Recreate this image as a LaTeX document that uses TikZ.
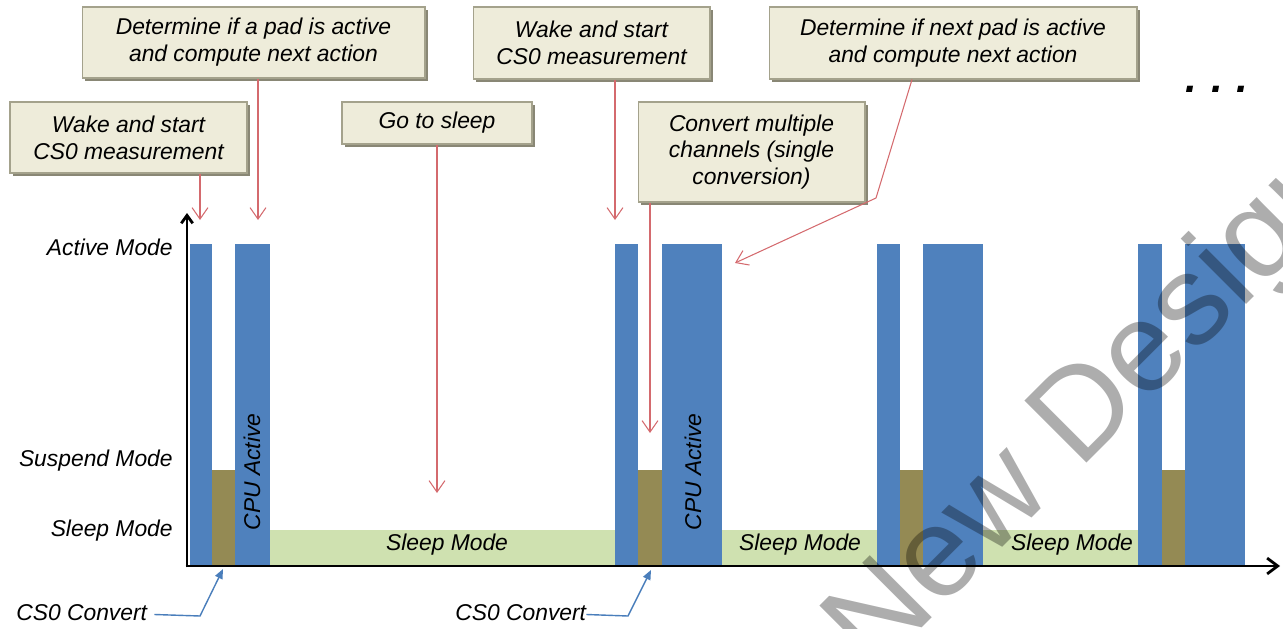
\documentclass[tikz,border=0pt]{standalone}
\usepackage{fontspec}
\setmainfont{Liberation Sans}
\usetikzlibrary{arrows.meta,shadows}
\definecolor{barblue}{HTML}{4F81BD}
\definecolor{barbrown}{HTML}{948A54}
\definecolor{sleepgreen}{HTML}{CFE1B0}
\definecolor{boxfill}{HTML}{EEECDA}
\definecolor{boxedge}{HTML}{A4A28C}
\definecolor{boxshade}{HTML}{7C7A66}
\definecolor{callred}{HTML}{D46A6E}
\definecolor{convblue}{HTML}{4A7EBB}
\begin{document}
\begin{tikzpicture}[x=0.02cm,y=-0.02cm,
  lbl/.style={font=\fontsize{13}{15.3}\selectfont\itshape, inner sep=0pt},
  callout/.style={lbl, align=center, fill=boxfill, draw=boxedge, line width=0.6pt,
    drop shadow={shadow xshift=1.6pt, shadow yshift=-1.6pt, fill=boxshade, opacity=0.9}},
  redarr/.style={draw=callred, line width=0.6pt, -{Straight Barb[length=6.5pt,width=9pt]}},
  convarr/.style={draw=convblue, line width=0.8pt, -{Triangle[length=5.5pt,width=4.5pt]}},
  axisline/.style={line width=1.6pt, black}]
\useasboundingbox (0,0) rectangle (1283,628);
\clip (0,0) rectangle (1283,628);

% bars: group 1
\fill[barblue] (190,244) rectangle (212,566);
\fill[barbrown] (212,470) rectangle (235,566);
\fill[barblue] (235,244) rectangle (270,566);
\fill[sleepgreen] (270,530) rectangle (615,566);
% group 2
\fill[barblue] (615,244) rectangle (638,566);
\fill[barbrown] (638,470) rectangle (662,566);
\fill[barblue] (662,244) rectangle (722,566);
\fill[sleepgreen] (722,530) rectangle (877,566);
% group 3
\fill[barblue] (877,244) rectangle (900,566);
\fill[barbrown] (900,470) rectangle (923,566);
\fill[barblue] (923,244) rectangle (983,566);
\fill[sleepgreen] (983,530) rectangle (1138,566);
% group 4
\fill[barblue] (1138,244) rectangle (1162,566);
\fill[barbrown] (1162,470) rectangle (1185,566);
\fill[barblue] (1185,244) rectangle (1245,566);

% texts inside bars
\node[lbl] (s1) at (447,545) {Sleep Mode};
\node[lbl] (s2) at (800,545) {Sleep Mode};
\node[lbl] (s3) at (1072,545) {Sleep Mode};
\node[lbl, rotate=90] (cpu1) at (252,472) {CPU Active};
\node[lbl, rotate=90] (cpu2) at (693,472) {CPU Active};

% axes
\coordinate (o) at (187,566);
\coordinate (ytip) at (187,213);
\coordinate (xtip) at (1280,566);
\draw[axisline, -{Straight Barb[length=4.5pt,width=6.5pt]}] ([yshift=-0.8pt]o) -- (ytip);
\draw[axisline, -{Straight Barb[length=6pt,width=9pt]}] ([xshift=-0.8pt]o) -- (xtip);

% axis labels
\node[lbl, anchor=east] (la) at (173,247) {Active Mode};
\node[lbl, anchor=east] (ls) at (173,461) {Suspend Mode};
\node[lbl, anchor=east] (lz) at (173,531) {Sleep Mode};

% callouts
\node[callout, minimum width=6.86cm, minimum height=1.42cm] (b1) at (253.5,42.5) {Determine if a pad is active\\and compute next action};
\node[callout, minimum width=4.74cm, minimum height=1.42cm] (b2) at (128.5,137.5) {Wake and start\\CS0 measurement};
\node[callout, minimum width=3.80cm, minimum height=0.84cm] (b3) at (437,123) {Go to sleep};
\node[callout, minimum width=4.74cm, minimum height=1.44cm] (b4) at (591.5,43) {Wake and start\\CS0 measurement};
\node[callout, minimum width=4.54cm, minimum height=2.00cm] (b5) at (751.5,152) {Convert multiple\\channels (single\\conversion)};
\node[callout, minimum width=7.36cm, minimum height=1.44cm] (b6) at (953,43) {Determine if next pad is active\\and compute next action};

% red callout arrows
\coordinate (t2) at (200,220);
\coordinate (t1) at (258,220);
\coordinate (t3) at (437,493);
\coordinate (t4) at (615,220);
\coordinate (t5) at (650,433);
\coordinate (s6) at (912,0);
\coordinate (k6) at (876,198);
\coordinate (t6) at (735,263);
\draw[redarr] (b2.south -| t2) -- (t2);
\draw[redarr] (b1.south -| t1) -- (t1);
\draw[redarr] (b3.south) -- (t3);
\draw[redarr] (b4.south -| t4) -- (t4);
\draw[redarr] (b5.south -| t5) -- (t5);
\draw[redarr] (b6.south -| s6) -- (k6) -- (t6);

% CS0 convert labels
\node[lbl, anchor=west] (c1) at (16,613) {CS0 Convert};
\node[lbl, anchor=west] (c2) at (455,613) {CS0 Convert};
\coordinate (k1) at (200,616);
\coordinate (e1) at (223,569);
\coordinate (k2) at (628,616);
\coordinate (e2) at (651,570);
\draw[convarr] ([xshift=0.14cm,yshift=-0.03cm]c1.east) -- (k1) -- (e1);
\draw[convarr] ([yshift=-0.03cm]c2.east) -- (k2) -- (e2);

% continuation dots
\node[font=\fontsize{24}{24}\selectfont\bfseries\itshape, inner sep=0pt, anchor=base] (dots) at (1217,93) {.\,\,.\,\,.};

% watermark
\node[anchor=base west, rotate=45, font=\fontsize{72.6}{80}\selectfont, text=black, text opacity=0.32, inner sep=0pt] (wm) at (874,676) {New Design};
\end{tikzpicture}
\end{document}
